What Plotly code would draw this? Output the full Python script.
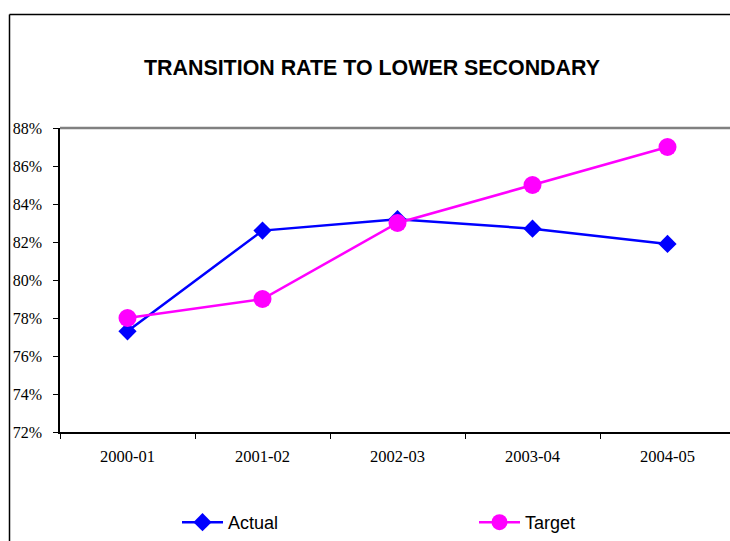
import plotly.graph_objects as go

categories = ["2000-01", "2001-02", "2002-03", "2003-04", "2004-05"]
actual = [0.773, 0.826, 0.832, 0.827, 0.819]
target = [0.78, 0.79, 0.83, 0.85, 0.87]
y_ticks = [0.72, 0.74, 0.76, 0.78, 0.80, 0.82, 0.84, 0.86, 0.88]

W, H = 730, 541
L, R, T, B = 60, 0, 128, 109
pw = W - L - R
ph = H - T - B

def px_x(p):
    return (p - L) / pw

def px_y(p):
    return (H - B - p) / ph

fig = go.Figure()
fig.add_trace(go.Scatter(
    x=categories, y=actual, name="Actual", mode="lines+markers",
    line=dict(color="#0000FF", width=2.5),
    marker=dict(symbol="diamond", size=14, color="#0000FF"),
    legend="legend",
))
fig.add_trace(go.Scatter(
    x=categories, y=target, name="Target", mode="lines+markers",
    line=dict(color="#FF00FF", width=2.5),
    marker=dict(symbol="circle", size=18, color="#FF00FF"),
    legend="legend2",
))

legend_common = dict(
    orientation="h", yanchor="middle", xanchor="left",
    font=dict(family="Liberation Sans, Arial", size=18, color="black"),
    itemwidth=41, itemclick=False, itemdoubleclick=False,
    bgcolor="rgba(0,0,0,0)", borderwidth=0,
)

fig.update_layout(
    width=W, height=H,
    margin=dict(l=L, r=R, t=T, b=B, pad=0),
    paper_bgcolor="white", plot_bgcolor="white",
    showlegend=True,
    legend=dict(x=px_x(177), y=px_y(523), **legend_common),
    legend2=dict(x=px_x(474), y=px_y(523), **legend_common),
    xaxis=dict(
        type="category", range=[-0.5, -0.5 + pw / 135.0],
        showgrid=False, showline=True, linecolor="black", linewidth=1.5,
        ticks="outside", ticklen=5, tickwidth=1, tickcolor="black",
        tickson="boundaries",
        tickfont=dict(family="Liberation Serif, Times New Roman", size=16.5, color="black"),
        ticklabelstandoff=8,
        zeroline=False, fixedrange=True,
    ),
    yaxis=dict(
        range=[0.72, 0.88], tickvals=y_ticks, tickformat=".0%",
        showgrid=False, showline=True, linecolor="black", linewidth=1.5,
        ticks="outside", ticklen=5, tickwidth=1, tickcolor="black",
        tickfont=dict(family="Liberation Serif, Times New Roman", size=16, color="black"),
        ticklabelstandoff=8,
        zeroline=False, fixedrange=True,
    ),
    shapes=[
        dict(type="line", xref="paper", yref="paper", x0=0, x1=1.0, y0=1, y1=1,
             line=dict(color="#808080", width=2.5)),
        dict(type="line", xref="paper", yref="paper",
             x0=px_x(9.5), x1=1.0, y0=px_y(14.5), y1=px_y(14.5),
             line=dict(color="black", width=1.5)),
        dict(type="line", xref="paper", yref="paper",
             x0=px_x(9.5), x1=px_x(9.5), y0=px_y(541), y1=px_y(14.5),
             line=dict(color="black", width=1.5)),
    ],
    annotations=[
        dict(text="<b>TRANSITION RATE TO LOWER SECONDARY</b>", xref="paper", yref="paper",
             x=px_x(372), y=px_y(68), xanchor="center", yanchor="middle", showarrow=False,
             font=dict(family="Liberation Sans, Arial", size=21.4, color="black")),
    ],
)

fig.write_html(
    "out.html",
    config={"displayModeBar": False},
    post_script="document.body.style.margin='0';document.body.style.overflow='hidden';",
)
